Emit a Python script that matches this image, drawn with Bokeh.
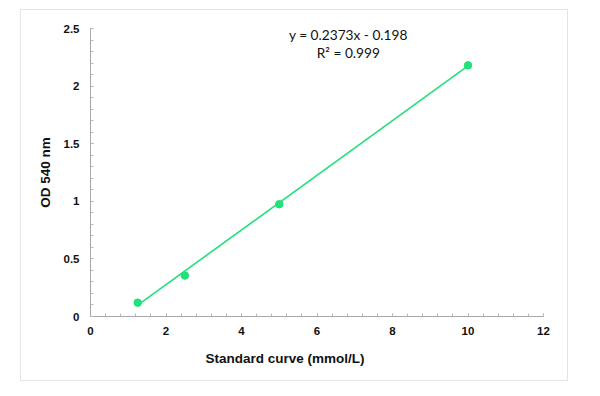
from bokeh.plotting import figure
from bokeh.models import FixedTicker, Label, Range1d, Title
from bokeh.embed import file_html
from bokeh.resources import INLINE
import numpy as np

# data
conc = [1.25, 2.5, 5.0, 10.0]
od = [0.12, 0.355, 0.975, 2.18]
slope = 0.2373
intercept = -0.198
r2 = 0.999
x_ticks = [0, 2, 4, 6, 8, 10, 12]
y_ticks = [0, 0.5, 1, 1.5, 2, 2.5]

GREEN = "#22E07A"

p = figure(width=548, height=372, output_backend="svg", toolbar_location=None,
           x_range=Range1d(0, 12), y_range=Range1d(0, 2.5),
           min_border_left=69, min_border_right=26, min_border_top=18, min_border_bottom=66)
p.margin = (9, 0, 0, 20)
p.styles = {"border": "1px solid #e4e4e4"}
p.outline_line_color = None
p.grid.visible = False
p.background_fill_color = "white"
p.border_fill_color = "white"

fit_x = [min(conc), max(conc)]
fit_y = [slope * v + intercept for v in fit_x]
p.line(fit_x, fit_y, line_color=GREEN, line_width=1.6)
p.scatter(conc, od, size=7.5, fill_color=GREEN, line_color=GREEN)

minor_x = [round(v, 2) for v in np.arange(0, 12.01, 0.4)]
minor_y = [round(v, 2) for v in np.arange(0, 2.51, 0.1)]
p.xaxis.ticker = FixedTicker(ticks=x_ticks, minor_ticks=minor_x)
p.yaxis.ticker = FixedTicker(ticks=y_ticks, minor_ticks=minor_y)

for ax in (p.xaxis[0], p.yaxis[0]):
    ax.axis_line_color = "#a8a8a8"
    ax.major_tick_line_color = "#a8a8a8"
    ax.minor_tick_line_color = "#b8b8b8"
    ax.major_tick_in = 3
    ax.major_tick_out = 0
    ax.minor_tick_in = 3
    ax.minor_tick_out = 0
    ax.major_label_text_font = "Liberation Sans"
    ax.major_label_text_font_style = "bold"
    ax.major_label_text_font_size = "11.5px"
    ax.major_label_text_color = "#111111"
    ax.axis_label_text_font = "Liberation Sans"
    ax.axis_label_text_font_style = "bold"
    ax.axis_label_text_font_size = "13.5px"
    ax.axis_label_text_color = "#111111"

p.yaxis.axis_label = "OD 540 nm"
p.xaxis.major_label_standoff = 10
p.yaxis.major_label_standoff = 11
p.yaxis.axis_label_standoff = 8

# x-axis title (placed left of centre as in the original)
xt = Title(text="Standard curve (mmol/L)", align="left", offset=115,
           text_font="Liberation Sans", text_font_style="bold",
           text_font_size="13.5px", text_color="#111111", standoff=23)
p.add_layout(xt, "below")

p.add_layout(Label(x=6.83, y=2.445, text=f"y = {slope}x - {abs(intercept)}",
                   text_align="center", text_baseline="middle",
                   text_font="Lato", text_font_size="13.7px", text_color="#111111"))
p.add_layout(Label(x=6.83, y=2.29, text=f"R\u00b2 = {r2}",
                   text_align="center", text_baseline="middle",
                   text_font="Lato", text_font_size="13.7px", text_color="#111111"))

open("out.html", "w").write(file_html(p, INLINE))
